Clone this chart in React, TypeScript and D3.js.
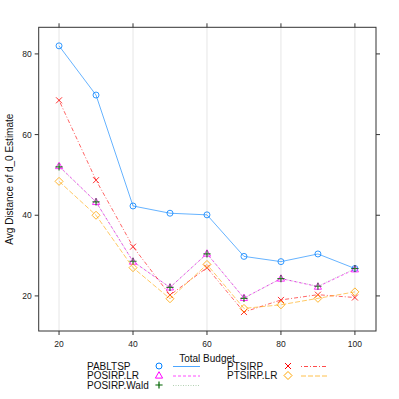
import React from 'react';
import * as d3 from 'd3';

const budgets = [20, 30, 40, 50, 60, 70, 80, 90, 100];
const pabltsp = [82.0, 69.8, 42.3, 40.5, 40.1, 29.8, 28.5, 30.4, 26.8];
const posirpLR = [52.2, 43.3, 28.5, 22.1, 30.5, 19.5, 24.3, 22.3, 26.6];
const posirpWald = [52.0, 43.3, 28.6, 22.1, 30.4, 19.4, 24.3, 22.4, 26.8];
const ptsirp = [68.5, 48.7, 32.2, 20.2, 27.0, 16.0, 19.0, 20.3, 19.6];
const ptsirpLR = [48.4, 40.0, 27.0, 19.3, 27.8, 16.9, 17.8, 19.4, 21.0];
const xTicks = [20, 40, 60, 80, 100];
const yTicks = [20, 40, 60, 80];

type Series = { name: string; values: number[]; color: string; dash: string; shape: string };

const series: Series[] = [
  { name: 'PABLTSP', values: pabltsp, color: '#0080ff', dash: '', shape: 'circle' },
  { name: 'POSIRP.LR', values: posirpLR, color: '#ff00ff', dash: '3,2', shape: 'triangle' },
  { name: 'POSIRP.Wald', values: posirpWald, color: '#006400', dash: '1,1.5', shape: 'plus' },
  { name: 'PTSIRP', values: ptsirp, color: '#ff0000', dash: '1,2,4,2', shape: 'cross' },
  { name: 'PTSIRP.LR', values: ptsirpLR, color: '#ffa500', dash: '5,2', shape: 'diamond' },
];

const font = '"Liberation Sans", Arial, sans-serif';

const Symbol = ({ shape, x, y, color }: { shape: string; x: number; y: number; color: string }) => {
  const s = 3;
  if (shape === 'circle') return <circle cx={x} cy={y} r={3} fill="none" stroke={color} strokeWidth={1} />;
  if (shape === 'triangle')
    return <path d={`M${x},${y - 3.8}L${x + 3.6},${y + 2.6}L${x - 3.6},${y + 2.6}Z`} fill="none" stroke={color} strokeWidth={1} />;
  if (shape === 'plus')
    return <path d={`M${x - 3.6},${y}H${x + 3.6}M${x},${y - 3.6}V${y + 3.6}`} stroke={color} strokeWidth={1.2} />;
  if (shape === 'cross')
    return <path d={`M${x - s},${y - s}L${x + s},${y + s}M${x - s},${y + s}L${x + s},${y - s}`} stroke={color} strokeWidth={1} />;
  return <path d={`M${x},${y - 4}L${x + 4},${y}L${x},${y + 4}L${x - 4},${y}Z`} fill="none" stroke={color} strokeWidth={1} />;
};

export default function App() {
  const left = 38.7, right = 376, top = 27.3, bottom = 331;
  const x = d3.scaleLinear().domain([14.5, 105.7]).range([left, right]);
  const y = d3.scaleLinear().domain([11.3, 86.6]).range([bottom, top]);
  const line = (vals: number[]) =>
    d3.line<number>().x((_, i) => x(budgets[i])).y(d => y(d))(vals) || '';

  // legend: two columns, text / symbol / line
  const legendRows = [
    { s: series[0], tx: 87, sx: 159, lx: 173, ty: 366 },
    { s: series[1], tx: 87, sx: 159, lx: 173, ty: 375.5 },
    { s: series[2], tx: 87, sx: 159, lx: 173, ty: 385 },
    { s: series[3], tx: 227, sx: 288, lx: 301, ty: 366 },
    { s: series[4], tx: 227, sx: 288, lx: 301, ty: 375.5 },
  ];

  return (
    <svg width={399} height={399} style={{ position: 'absolute', left: 0, top: 0, background: '#fff' }}>
      {xTicks.map(t => (
        <line key={'g' + t} x1={x(t)} x2={x(t)} y1={top} y2={bottom} stroke="#e6e6e6" strokeWidth={1} />
      ))}
      <rect x={left} y={top} width={right - left} height={bottom - top} fill="none" stroke="#333" strokeWidth={1} />
      {xTicks.map(t => (
        <g key={'x' + t}>
          <line x1={x(t)} x2={x(t)} y1={bottom} y2={bottom + 4} stroke="#333" />
          <line x1={x(t)} x2={x(t)} y1={top} y2={top - 4} stroke="#333" />
          <text x={x(t)} y={bottom + 16} textAnchor="middle" fontSize={8.5} fontFamily={font} fill="#222">{t}</text>
        </g>
      ))}
      {yTicks.map(t => (
        <g key={'y' + t}>
          <line x1={left} x2={left - 4} y1={y(t)} y2={y(t)} stroke="#333" />
          <line x1={right} x2={right + 4} y1={y(t)} y2={y(t)} stroke="#333" />
          <text x={left - 7} y={y(t) + 3} textAnchor="end" fontSize={8.5} fontFamily={font} fill="#222">{t}</text>
        </g>
      ))}
      {series.map(s => (
        <path key={s.name} d={line(s.values)} fill="none" stroke={s.color} strokeOpacity={s.shape === 'plus' ? 0.25 : 0.6}
          strokeWidth={1} strokeDasharray={s.dash} />
      ))}
      {series.map(s => (
        <g key={s.name + 'p'} opacity={0.8}>
          {s.values.map((v, i) => <Symbol key={i} shape={s.shape} x={x(budgets[i])} y={y(v)} color={s.color} />)}
        </g>
      ))}
      <text transform={`translate(13,${(top + bottom) / 2}) rotate(-90)`} textAnchor="middle" fontSize={10}
        fontFamily={font} fill="#111">Avg Distance of d_0 Estimate</text>
      <text x={207} y={362} textAnchor="middle" fontSize={10} fontFamily={font} fill="#111">Total Budget</text>
      {legendRows.map(r => (
        <g key={'l' + r.s.name}>
          <text x={r.tx} y={r.ty + 3.5} fontSize={10} fontFamily={font} fill="#111">{r.s.name}</text>
          <Symbol shape={r.s.shape} x={r.sx} y={r.ty} color={r.s.color} />
          <line x1={r.lx} x2={r.lx + 27} y1={r.ty + 0.5} y2={r.ty + 0.5} stroke={r.s.color}
            strokeOpacity={r.s.shape === 'plus' ? 0.3 : 0.7} strokeDasharray={r.s.dash} />
        </g>
      ))}
    </svg>
  );
}
